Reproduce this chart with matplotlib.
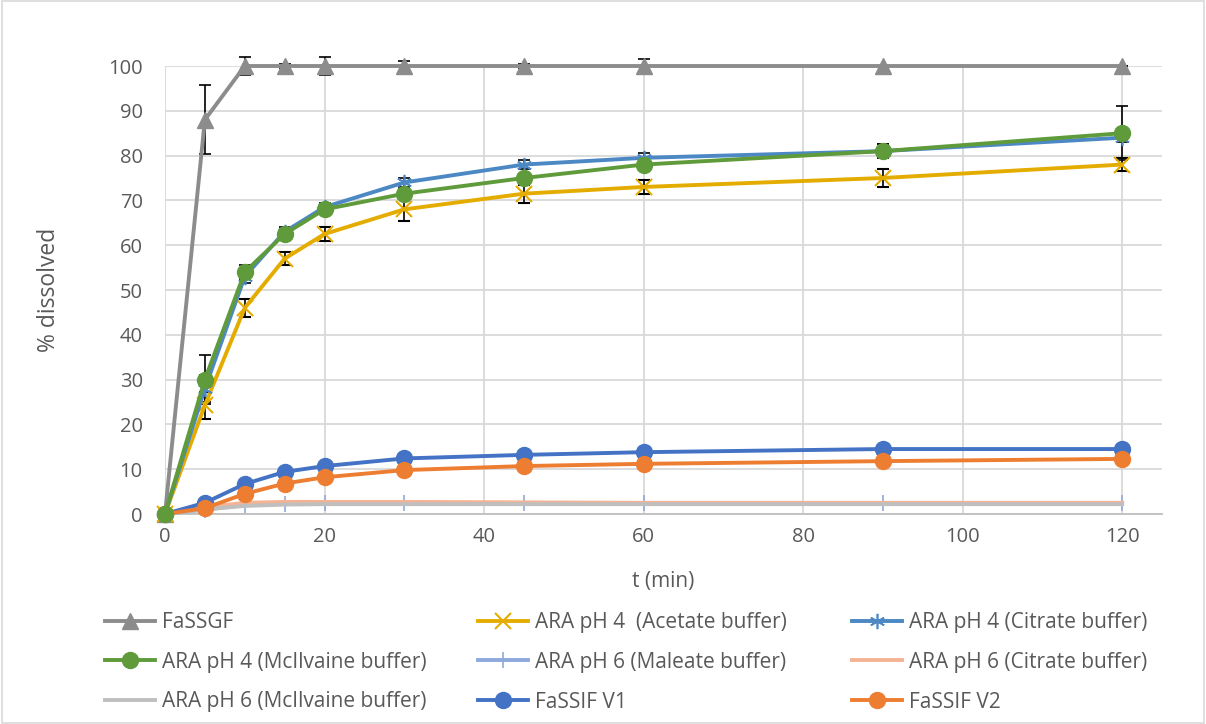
import matplotlib
matplotlib.use("Agg")
import matplotlib.pyplot as plt
from matplotlib.patches import Rectangle

plt.rcParams['font.family'] = ['Open Sans', 'DejaVu Sans']

t = [0, 5, 10, 15, 20, 30, 45, 60, 90, 120]

fassgf = [0, 88, 100, 100, 100, 100, 100, 100, 100, 100]
fassgf_err = [0, 7.7, 2, 0.5, 2, 1.2, 0.5, 1.5, 0, 0]

ph4_acetate = [0, 24.3, 46, 57, 62.5, 68, 71.5, 73, 75, 78]
ph4_acetate_err = [0, 3, 2, 1.5, 1.5, 2.5, 2, 1.5, 2, 1.5]

ph4_citrate = [0, 28, 53, 63, 68.5, 74, 78, 79.5, 81, 84]
ph4_citrate_err = [0, 3, 1.5, 1, 1, 1, 1, 1, 1.5, 1]

ph4_mcilvaine = [0, 30, 54, 62.5, 68, 71.5, 75, 78, 81, 85]
ph4_mcilvaine_err = [0, 5.4, 1.5, 1, 1, 1, 1, 1, 1.5, 6]

ph6_maleate = [0, 1, 2, 2.3, 2.4, 2.4, 2.4, 2.4, 2.4, 2.4]
ph6_citrate = [0, 1.5, 2.5, 2.7, 2.7, 2.7, 2.6, 2.5, 2.5, 2.5]
ph6_mcilvaine = [0, 1, 1.8, 2.1, 2.2, 2.2, 2.2, 2.2, 2.2, 2.2]

fassif_v1 = [0, 2.5, 6.7, 9.4, 10.7, 12.4, 13.2, 13.8, 14.5, 14.5]
fassif_v2 = [0, 1.3, 4.5, 6.8, 8.2, 9.8, 10.7, 11.2, 11.8, 12.3]

labels = ["FaSSGF", "ARA pH 4  (Acetate buffer)", "ARA pH 4 (Citrate buffer)",
          "ARA pH 4 (McIlvaine buffer)", "ARA pH 6 (Maleate buffer)", "ARA pH 6 (Citrate buffer)",
          "ARA pH 6 (McIlvaine buffer)", "FaSSIF V1", "FaSSIF V2"]

W, H = 1206, 724
fig = plt.figure(figsize=(W / 100, H / 100), dpi=100)
fig.patches.append(Rectangle((0.002, 0.002), 0.996, 0.996, transform=fig.transFigure,
                             fill=False, edgecolor='#D9D9D9', linewidth=1.2))
ax = fig.add_axes([165 / W, 1 - 514 / H, (1162 - 165) / W, (514 - 66) / H])

lw = 2.8
ekw = dict(ecolor='black', elinewidth=1.2, capsize=4, capthick=1.2)
handles = {}

h = ax.errorbar(t, fassgf, yerr=fassgf_err, color='#8C8C8C', lw=lw, marker='^', ms=11,
                label=labels[0], clip_on=False, zorder=3, **ekw)
handles[0] = h[0]
h = ax.errorbar(t, ph4_acetate, yerr=ph4_acetate_err, color='#E5AC00', lw=lw, marker='x', ms=11,
                mew=1.5, label=labels[1], clip_on=False, zorder=3, **ekw)
handles[1] = h[0]
h = ax.errorbar(t, ph4_citrate, yerr=ph4_citrate_err, color='#4C88C4', lw=lw, marker=(6, 2, 0), ms=11,
                mew=1.2, label=labels[2], clip_on=False, zorder=3, **ekw)
handles[2] = h[0]
h = ax.errorbar(t, ph4_mcilvaine, yerr=ph4_mcilvaine_err, color='#5F9B3B', lw=lw, marker='o', ms=11.5,
                label=labels[3], clip_on=False, zorder=3, **ekw)
handles[3] = h[0]
handles[4], = ax.plot(t, ph6_maleate, color='#8EA9DB', lw=lw, marker='|', ms=12, mew=1.2,
                      label=labels[4], clip_on=False, zorder=3)
handles[5], = ax.plot(t, ph6_citrate, color='#F4B394', lw=lw, label=labels[5], clip_on=False, zorder=3)
handles[6], = ax.plot(t, ph6_mcilvaine, color='#BFBFBF', lw=lw, label=labels[6], clip_on=False, zorder=3)
handles[7], = ax.plot(t, fassif_v1, color='#4472C4', lw=lw, marker='o', ms=11.5,
                      label=labels[7], clip_on=False, zorder=3)
handles[8], = ax.plot(t, fassif_v2, color='#ED7D31', lw=lw, marker='o', ms=11.5,
                      label=labels[8], clip_on=False, zorder=3)

ax.set_xlim(0, 125)
ax.set_ylim(0, 100)
ax.set_xticks(range(0, 121, 20))
ax.set_yticks(range(0, 101, 10))
ax.grid(True, color='#D9D9D9', linewidth=1.3)
ax.set_axisbelow(True)
for s in ['top', 'right', 'left']:
    ax.spines[s].set_visible(False)
ax.spines['bottom'].set_color('#BFBFBF')
ax.spines['bottom'].set_linewidth(1.3)
ax.tick_params(length=0, labelsize=14.5, colors='#595959')
ax.tick_params(axis='y', pad=16)
ax.tick_params(axis='x', pad=9)
ax.set_xlabel("t (min)", fontsize=15, color='#595959', labelpad=18)
ax.set_ylabel("% dissolved", fontsize=16.5, color='#595959', labelpad=34)

cols = [[0, 3, 6], [1, 4, 7], [2, 5, 8]]
col_x = [105, 478, 852]
for idx, cx in zip(cols, col_x):
    leg = fig.legend([handles[i] for i in idx], [labels[i] for i in idx],
                     loc='upper left', bbox_to_anchor=(cx / W, 1 - 612 / H),
                     frameon=False, fontsize=15, handlelength=2.4, labelspacing=0.9,
                     handletextpad=0.35, numpoints=1, borderpad=0, borderaxespad=0)
    for txt in leg.get_texts():
        txt.set_color('#595959')

fig.savefig("out.png", dpi=100)
